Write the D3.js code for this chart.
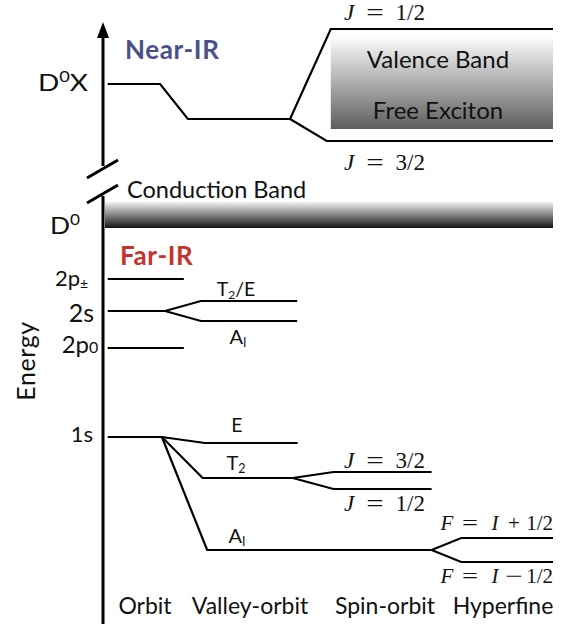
<!DOCTYPE html>
<html><head><meta charset="utf-8">
<script src="https://cdn.jsdelivr.net/npm/d3@7"></script>
<style>body{margin:0;background:#fff}svg{display:block}</style>
</head><body>
<svg id="c" width="569" height="624"></svg>
<script>
// ---- data (energy in arbitrary units, higher = more energetic) ----
const stages = ["Orbit", "Valley-orbit", "Spin-orbit", "Hyperfine"];
const orbitLevels = ["D0X", "D0", "2p±", "2s", "2p0", "1s"];
const orbitEnergy = [540, 396, 345, 313, 276, 187];
const excitonEnergy = [540, 505, 595, 483]; // D0X, valley-orbit, J=1/2, J=3/2
const excitonJ = ["1/2", "3/2"];
const valley2s = ["T2/E", "A1"];
const valley2sEnergy = [323, 303];
const valley1s = ["E", "T2", "A1"];
const valley1sEnergy = [181, 146, 74];
const spinT2 = ["3/2", "1/2"];
const spinT2Energy = [152, 135];
const hyperA1 = ["+", "−"];
const hyperA1Energy = [86, 62];
const conductionBand = [422, 396];
const valenceBand = [589, 495];

const svg = d3.select("#c");
const y = d3.scaleLinear().domain([0, 600]).range([624, 24]);
const x = d3.scaleLinear().domain([0, 100]).range([105, 553]);
const line = d3.line().x(d => x(d[0])).y(d => y(d[1]));
const stroke = (sel) => sel.attr("fill", "none").attr("stroke", "#000").attr("stroke-width", 2.2);

// gradients
const defs = svg.append("defs");
const g1 = defs.append("linearGradient").attr("id", "cb").attr("x1", 0).attr("y1", 0).attr("x2", 0).attr("y2", 1);
g1.append("stop").attr("offset", "0%").attr("stop-color", "#f0f0f0");
g1.append("stop").attr("offset", "100%").attr("stop-color", "#151515");
const g2 = defs.append("linearGradient").attr("id", "vb").attr("x1", 0).attr("y1", 0).attr("x2", 0).attr("y2", 1);
g2.append("stop").attr("offset", "0%").attr("stop-color", "#ffffff");
g2.append("stop").attr("offset", "100%").attr("stop-color", "#5e5e5e");

// bands
svg.append("rect").attr("x", x(0)).attr("width", x(100) - x(0))
  .attr("y", y(conductionBand[0])).attr("height", y(conductionBand[1]) - y(conductionBand[0]))
  .attr("fill", "url(#cb)");
svg.append("rect").attr("x", x(50.4)).attr("width", x(100) - x(50.4))
  .attr("y", y(valenceBand[0])).attr("height", y(valenceBand[1]) - y(valenceBand[0]))
  .attr("fill", "url(#vb)");

// axis with break
const ax = 103;
svg.append("line").attr("x1", ax).attr("x2", ax).attr("y1", 30).attr("y2", 166).call(stroke).attr("stroke-width", 3);
svg.append("line").attr("x1", ax).attr("x2", ax).attr("y1", 196).attr("y2", 624).call(stroke).attr("stroke-width", 3);
svg.append("path").attr("d", `M${ax},22 L${ax - 6},38 L${ax + 6},38 Z`).attr("fill", "#000");
svg.append("line").attr("x1", 87).attr("y1", 178).attr("x2", 118).attr("y2", 160).call(stroke).attr("stroke-width", 3);
svg.append("line").attr("x1", 87).attr("y1", 203).attr("x2", 118).attr("y2", 185).call(stroke).attr("stroke-width", 3);

// exciton
const eX = excitonEnergy;
svg.append("path").attr("d", line([[0.6, eX[0]], [12.3, eX[0]], [18.5, eX[1]], [41.3, eX[1]]])).call(stroke);
svg.append("path").attr("d", line([[41.3, eX[1]], [50.4, eX[2]], [100, eX[2]]])).call(stroke);
svg.append("path").attr("d", line([[41.3, eX[1]], [49.5, eX[3]], [100, eX[3]]])).call(stroke);

// orbit levels (far-IR)
const oE = {}; orbitLevels.forEach((k, i) => oE[k] = orbitEnergy[i]);
["2p±", "2p0"].forEach(k => {
  svg.append("path").attr("d", line([[0.6, oE[k]], [17.6, oE[k]]])).call(stroke);
});
svg.append("path").attr("d", line([[0.6, oE["2s"]], [13.4, oE["2s"]]])).call(stroke);
valley2sEnergy.forEach(e => {
  svg.append("path").attr("d", line([[13.4, oE["2s"]], [21.4, e], [42.9, e]])).call(stroke);
});
svg.append("path").attr("d", line([[0.6, oE["1s"]], [12.7, oE["1s"]]])).call(stroke);
const v1Start = [22.3, 21.8, 22.8];
const v1End = [43, 41.9, 72.9];
valley1sEnergy.forEach((e, i) => {
  svg.append("path").attr("d", line([[12.7, oE["1s"]], [v1Start[i], e], [v1End[i], e]])).call(stroke);
});
spinT2Energy.forEach(e => {
  svg.append("path").attr("d", line([[41.9, valley1sEnergy[1]], [51, e], [72.9, e]])).call(stroke);
});
hyperA1Energy.forEach(e => {
  svg.append("path").attr("d", line([[72.9, valley1sEnergy[2]], [79.5, e], [100, e]])).call(stroke);
});

// ---- text ----
const sans = "Lato, 'Open Sans', sans-serif";
const serif = "'Liberation Serif', 'DejaVu Serif', serif";
function txt(xp, yp, s, size, anchor, extra) {
  const t = svg.append("text").attr("x", xp).attr("y", yp).attr("font-family", sans)
    .attr("font-size", size).attr("text-anchor", anchor || "start").attr("fill", "#111");
  if (s !== null) t.text(s);
  if (extra) extra(t);
  return t;
}
// left labels
txt(38, 91, null, 23, "start", t => {
  t.attr("textLength", 50).attr("lengthAdjust", "spacingAndGlyphs");
  t.append("tspan").text("D");
  t.append("tspan").attr("font-size", 15).attr("dy", -9).text("0");
  t.append("tspan").attr("dy", 9).text("X");
});
txt(50, 234, null, 23, "start", t => {
  t.attr("textLength", 30).attr("lengthAdjust", "spacingAndGlyphs");
  t.append("tspan").text("D");
  t.append("tspan").attr("font-size", 15).attr("dy", -9).text("0");
});
txt(80, 286, "2p", 22, "end");
svg.append("text").attr("x", 80).attr("y", 289).attr("font-family", sans).attr("font-size", 14).attr("fill", "#111").text("±");
txt(94, 322, "2s", 25, "end");
txt(89, 353, "2p", 24, "end");
svg.append("text").attr("x", 89).attr("y", 353).attr("font-family", sans).attr("font-size", 16).attr("fill", "#111").text("0");
txt(93, 442, "1s", 22, "end");

txt(0, 0, "Energy", 25, "middle", t => t.attr("letter-spacing", 0.6).attr("transform", `translate(35,361) rotate(-90)`));

txt(125, 59, "Near-IR", 26, "start", t => t.attr("font-weight", "bold").attr("fill", "#4b5189").attr("letter-spacing", 0.6));
txt(120, 265, "Far-IR", 26, "start", t => t.attr("font-weight", "bold").attr("fill", "#c4342b").attr("letter-spacing", 0.6));
txt(127, 198, "Conduction Band", 23.5, "start");
txt(438, 68, "Valence Band", 24, "middle");
txt(438, 119, "Free Exciton", 24, "middle");

// valley labels
function sub(xp, yp, main, s, size) {
  const t = txt(xp, yp, null, size, "middle");
  t.append("tspan").text(main);
  t.append("tspan").attr("font-size", size * 0.62).attr("dy", 3).text(s);
  return t;
}
txt(236, 296, null, 19.5, "middle", t => {
  t.append("tspan").text("T");
  t.append("tspan").attr("font-size", 12).attr("dy", 3).text("2");
  t.append("tspan").attr("dy", -3).text("/E");
});
sub(238, 344, "A", "I", 20);
txt(237, 432, "E", 19.5, "middle");
sub(236, 470, "T", "2", 20);
sub(237, 543, "A", "I", 20);

// math labels with TeX-like wide spacing; tokens placed relative to the right end
function token(g, xc, s, size, opts) {
  const t = g.append("text").attr("font-family", serif).attr("font-size", size).attr("fill", "#111")
    .attr("text-anchor", opts.anchor || "middle").text(s);
  if (opts.italic) t.attr("font-style", "italic");
  if (opts.sx) t.attr("transform", `translate(${xc},0) scale(${opts.sx},1)`);
  else t.attr("x", xc);
  return t;
}
function jLabel(xEnd, yp, v) {
  const g = svg.append("g").attr("transform", `translate(${xEnd},${yp})`);
  token(g, -76, "J", 23, {italic: true});
  token(g, -50, "=", 23, {sx: 1.35});
  token(g, 0, v, 23, {anchor: "end"});
}
function fLabel(xEnd, yp, op) {
  const g = svg.append("g").attr("transform", `translate(${xEnd},${yp})`);
  token(g, -106, "F", 21, {italic: true});
  token(g, -83, "=", 21, {sx: 1.35});
  token(g, -58, "I", 21, {italic: true});
  token(g, -39, op, 21, {sx: op === "+" ? 1 : 1.5});
  token(g, 0, "1/2", 21, {anchor: "end"});
}
jLabel(425, 20, excitonJ[0]);
jLabel(425, 170, excitonJ[1]);
spinT2.forEach((v, i) => jLabel(425, i === 0 ? 468 : 511, v));
hyperA1.forEach((op, i) => fLabel(553, i === 0 ? 530 : 583, op));

// stage labels
const stageCenters = [145, 250, 385, 503];
stages.forEach((s, i) => txt(stageCenters[i], 614, s, 23, "middle"));
</script>
</body></html>
